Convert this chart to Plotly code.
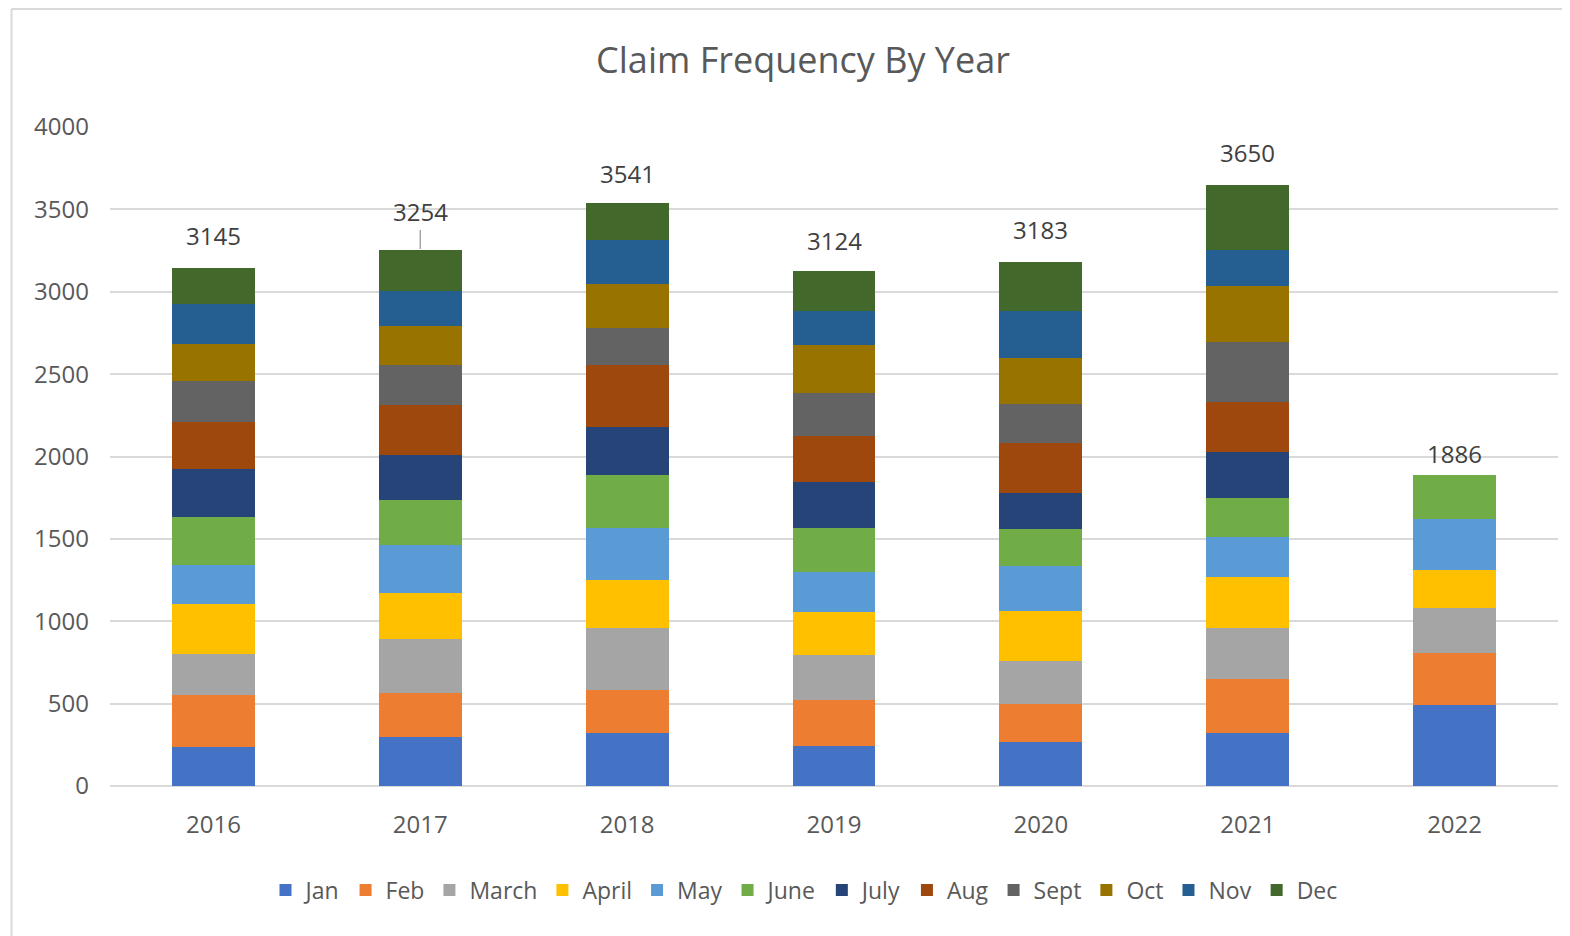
import plotly.graph_objects as go

years = ["2016", "2017", "2018", "2019", "2020", "2021", "2022"]
months = ["Jan", "Feb", "March", "April", "May", "June", "July", "Aug", "Sept", "Oct", "Nov", "Dec"]

jan = [234, 295, 322, 245, 266, 322, 494]
feb = [320, 268, 263, 278, 230, 327, 316]
march = [248, 330, 374, 270, 261, 310, 270]
april = [300, 278, 290, 263, 307, 309, 233]
may = [239, 290, 318, 241, 273, 241, 310]
june = [293, 278, 320, 270, 220, 240, 263]
july = [290, 271, 290, 280, 223, 281, None]
aug = [286, 300, 376, 280, 301, 302, None]
sept = [251, 248, 224, 260, 238, 363, None]
octo = [222, 235, 270, 290, 281, 340, None]
nov = [244, 209, 270, 204, 282, 220, None]
dec = [218, 252, 224, 243, 301, 395, None]

series = [jan, feb, march, april, may, june, july, aug, sept, octo, nov, dec]

colors = ["#4472C4", "#ED7D31", "#A5A5A5", "#FFC000", "#5B9BD5", "#70AD47",
          "#264478", "#9E480E", "#636363", "#997300", "#255E91", "#43682B"]

# label vertical offsets (px) above bar tops
label_shift = {"2016": 14, "2017": 22, "2018": 11, "2019": 12, "2020": 14, "2021": 14, "2022": 3}

FONT = "Open Sans, Segoe UI, Calibri, Arial"
TXT = "#595959"

W, H = 1562, 928
L, R, T, B = 102, 12, 119, 150
PW, PH = W - L - R, H - T - B

fig = go.Figure()
for name, vals, col in zip(months, series, colors):
    fig.add_trace(go.Bar(x=years, y=vals, name=name, marker=dict(color=col, line=dict(width=0))))

totals = [sum(v[i] for v in series if v[i] is not None) for i in range(len(years))]

for i, (yr, tot) in enumerate(zip(years, totals)):
    if yr == "2017":
        fig.add_annotation(x=i, y=tot, text=str(tot), showarrow=True, arrowhead=0,
                           arrowwidth=1.5, arrowcolor="#A6A6A6", ax=0, ay=-38, standoff=1,
                           font=dict(size=24, color="#404040", family=FONT))
    else:
        fig.add_annotation(x=i, y=tot, text=str(tot), showarrow=False, yanchor="bottom",
                           yshift=label_shift[yr], font=dict(size=24, color="#404040", family=FONT))

# chart border (top and left edges visible)
bx = (3.5 - L) / PW
by = (T - 1) / PH + 1
fig.add_shape(type="line", xref="paper", yref="paper", x0=bx, x1=1 + R / PW,
              y0=by, y1=by, line=dict(color="#D9D9D9", width=2))
fig.add_shape(type="line", xref="paper", yref="paper", x0=bx, x1=bx,
              y0=by, y1=-B / PH, line=dict(color="#D9D9D9", width=2))

fig.update_layout(
    width=W, height=H,
    barmode="stack", bargap=0.6,
    plot_bgcolor="white", paper_bgcolor="white",
    margin=dict(l=L, r=R, t=T, b=B),
    font=dict(family=FONT, color=TXT, size=24),
    title=dict(text="Claim Frequency By Year", x=795 / W, xanchor="center",
               y=1 - 52 / H, yanchor="middle", font=dict(size=36, color=TXT, family=FONT)),
    legend=dict(orientation="h", x=(796 - L) / PW, xanchor="center", y=(PH - (882 - T)) / PH,
                yanchor="middle", font=dict(size=23, color=TXT, family=FONT), itemwidth=30,
                traceorder="normal", itemclick=False),
    xaxis=dict(type="category", range=[-0.5, len(years) - 0.5], showgrid=False, showline=False,
               ticks="", ticklabelstandoff=22, tickfont=dict(size=24, color=TXT, family=FONT)),
    yaxis=dict(range=[0, 4000], dtick=500, showgrid=True, gridcolor="#D9D9D9", gridwidth=1.5,
               zeroline=True, zerolinecolor="#D9D9D9", zerolinewidth=2, showline=False,
               ticks="", ticklabelstandoff=20, tickfont=dict(size=24, color=TXT, family=FONT)),
)

fig.write_html("out.html")
